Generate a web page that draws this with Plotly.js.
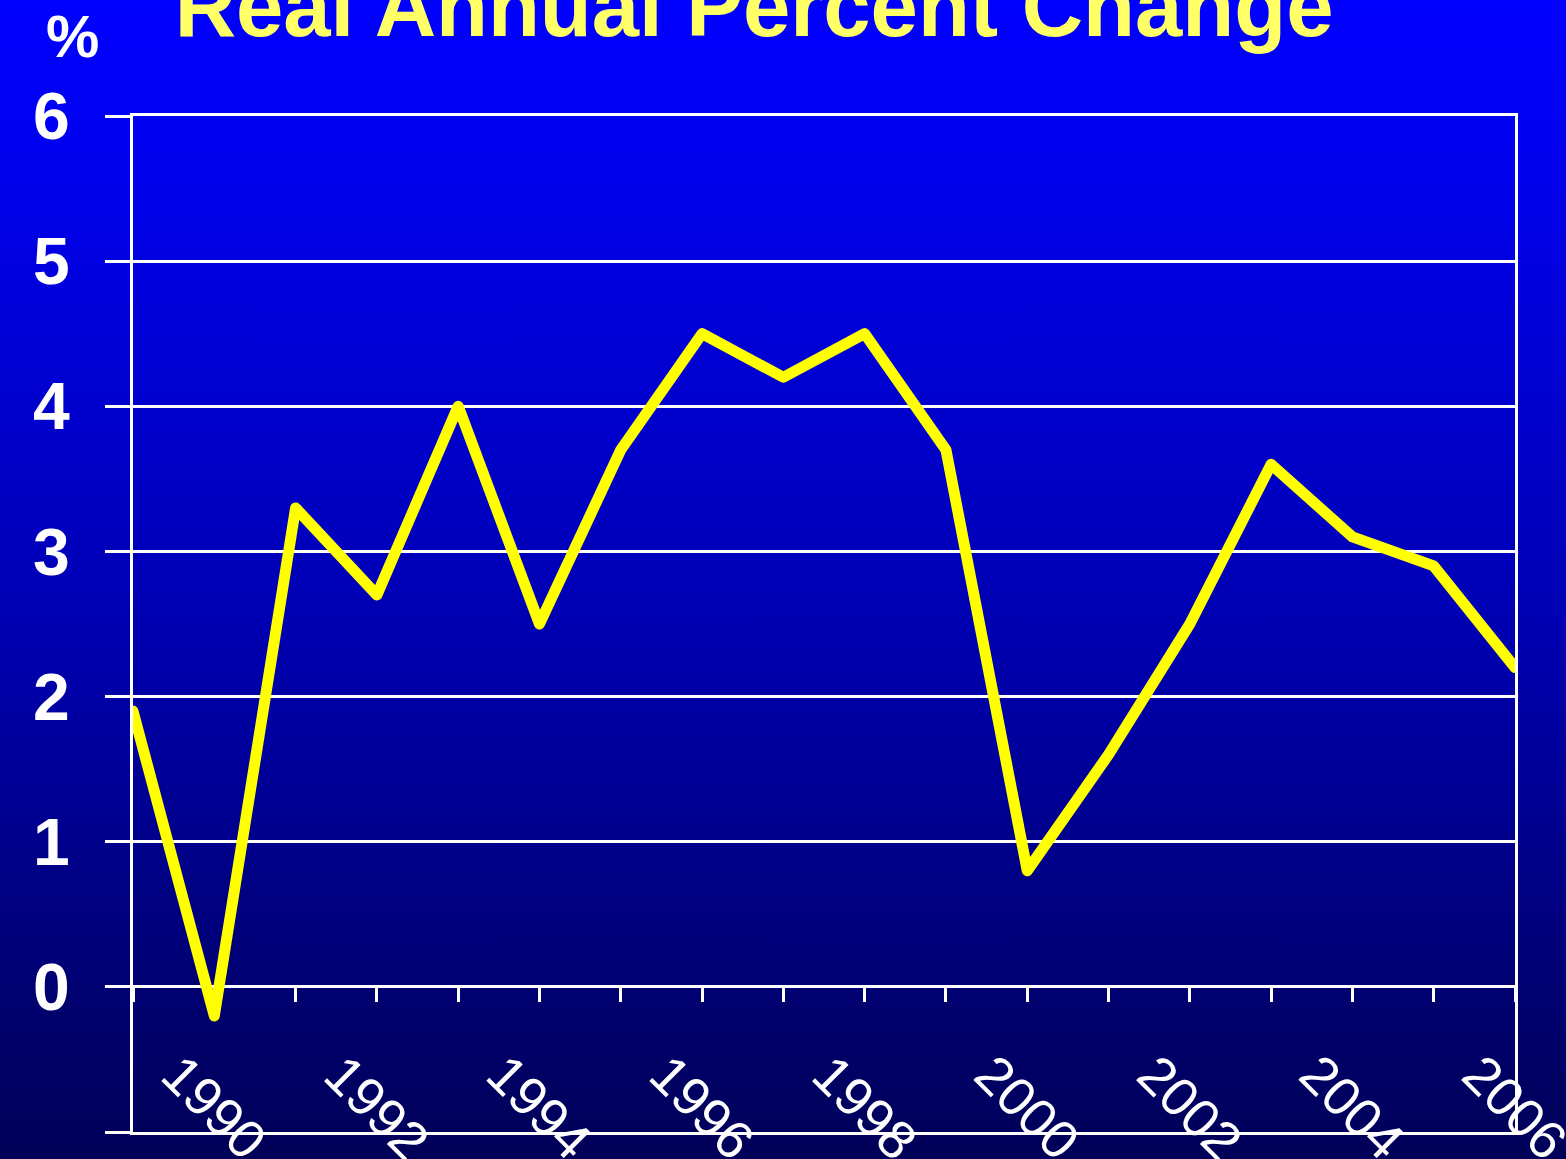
<!DOCTYPE html>
<html>
<head>
<meta charset="utf-8">
<script src="https://cdn.plot.ly/plotly-3.0.1.min.js"></script>
<style>
html, body { margin:0; padding:0; width:1566px; height:1159px; overflow:hidden;
  background: linear-gradient(to bottom, #0000ff 0%, #0000f0 12%, #0000b0 55%, #000068 90%, #000058 100%); }
#chart { width:1566px; height:1159px; }
.js-line { stroke-linejoin: round !important; stroke-linecap: round !important; }
</style>
</head>
<body>
<div id="chart"></div>
<script>
// Data
const years = [1989,1990,1991,1992,1993,1994,1995,1996,1997,1998,1999,2000,2001,2002,2003,2004,2005,2006];
const pctChange = [1.9,-0.2,3.3,2.7,4.0,2.5,3.7,4.5,4.2,4.5,3.7,0.8,1.6,2.5,3.6,3.1,2.9,2.2];
const xTickYears = [1990,1992,1994,1996,1998,2000,2002,2004,2006];
const xTickLabels = ['1990','1992','1994','1996','1998','2000','2002','2004','2006'];
const yTickVals = [-1,0,1,2,3,4,5,6];
const yTickLabels = ['-1','0','1','2','3','4','5','6'];
const titleText = 'Real Annual Percent Change';
const unitLabel = '%';

const FONT = 'Liberation Sans, Arial, Helvetica, sans-serif';

const traces = [
  {
    x: years, y: pctChange, type: 'scatter', mode: 'lines',
    line: { color: '#ffff00', width: 11 },
    hoverinfo: 'x+y', showlegend: false, cliponaxis: false
  },
  {
    x: years, y: pctChange, type: 'scatter', mode: 'lines',
    xaxis: 'x2', line: { color: 'rgba(0,0,0,0)', width: 0 },
    hoverinfo: 'skip', showlegend: false
  }
];

const annotations = xTickYears.map((yr, i) => ({
  x: yr, y: -0.83, xref: 'x', yref: 'y',
  text: xTickLabels[i], showarrow: false, textangle: 45,
  font: { family: FONT, size: 54, color: '#ffffff' },
  xanchor: 'center', yanchor: 'middle'
}));
annotations.push({
  x: -0.044, y: 1.078, xref: 'paper', yref: 'paper',
  text: unitLabel, showarrow: false,
  font: { family: FONT, size: 60, color: '#ffffff', weight: 'bold' },
  xanchor: 'center', yanchor: 'middle'
});

const layout = {
  width: 1566, height: 1159,
  margin: { l: 133, r: 51, t: 116, b: 27, pad: 0 },
  paper_bgcolor: 'rgba(0,0,0,0)',
  plot_bgcolor: 'rgba(0,0,0,0)',
  title: {
    text: titleText, xref: 'container', yref: 'container',
    x: 0.4815, xanchor: 'center', y: 0.995, yanchor: 'middle',
    font: { family: FONT, size: 85, color: '#ffff66', weight: 'bold' }
  },
  xaxis: {
    range: [1989, 2006], showgrid: false, zeroline: false,
    showline: true, linecolor: '#ffffff', linewidth: 3, mirror: true,
    showticklabels: false, ticks: '', layer: 'below traces', fixedrange: true
  },
  xaxis2: {
    overlaying: 'x', anchor: 'free', position: 1/7,
    range: [1989, 2006], tickmode: 'array', tickvals: years,
    ticks: 'outside', ticklen: 14, tickwidth: 3, tickcolor: '#ffffff',
    showticklabels: false, showgrid: false, zeroline: false, showline: false,
    layer: 'below traces', fixedrange: true
  },
  yaxis: {
    range: [-1, 6], tickmode: 'array', tickvals: yTickVals, ticktext: yTickLabels,
    showgrid: true, gridcolor: '#ffffff', gridwidth: 3,
    zeroline: true, zerolinecolor: '#ffffff', zerolinewidth: 3,
    showline: true, linecolor: '#ffffff', linewidth: 3, mirror: true,
    ticks: 'outside', ticklen: 25, tickwidth: 3, tickcolor: '#ffffff',
    ticklabelstandoff: 22,
    tickfont: { family: FONT, size: 66, color: '#ffffff', weight: 'bold' },
    layer: 'below traces', fixedrange: true
  },
  annotations: annotations,
  showlegend: false
};

Plotly.newPlot('chart', traces, layout, { displayModeBar: false, staticPlot: true }).then(() => {
  document.querySelectorAll('.scatterlayer path').forEach(p => {
    p.style.strokeLinejoin = 'round';
    p.style.strokeLinecap = 'round';
  });
});
</script>
</body>
</html>
